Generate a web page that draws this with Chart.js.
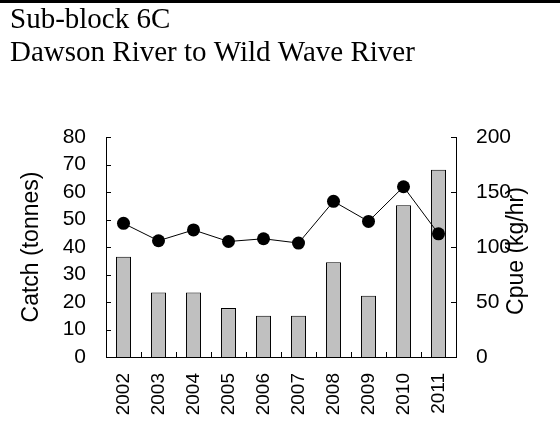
<!DOCTYPE html>
<html>
<head>
<meta charset="utf-8">
<script src="https://cdn.jsdelivr.net/npm/chart.js@4.4.1/dist/chart.umd.min.js"></script>
<style>
  html, body { margin: 0; padding: 0; background: #fff; }
  canvas { display: block; }
</style>
</head>
<body>
<canvas id="catchChart" width="560" height="432"></canvas>
<script>
// catch and cpue by year, sub-block 6C
const years = ['2002', '2003', '2004', '2005', '2006', '2007', '2008', '2009', '2010', '2011'];
const catchTonnes = [36.5, 23.5, 23.5, 17.8, 15.0, 15.0, 34.5, 22.3, 55.2, 68.1];
const cpueKgHr = [121.5, 105.7, 115.5, 105.0, 107.5, 103.6, 141.5, 123.3, 154.8, 112.0];

const titleLines = ['Sub-block 6C', 'Dawson River to Wild Wave River'];
const catchTitle = 'Catch (tonnes)';
const cpueTitle = 'Cpue (kg/hr)';

const sans = '"Liberation Sans", Arial, sans-serif';
const serif = '"Liberation Serif", "Times New Roman", serif';

// short inward tick marks, rule at the top, right-hand axis title
const frameExtras = {
  id: 'frameExtras',
  beforeDraw(chart) {
    const ctx = chart.ctx;
    ctx.save();
    ctx.fillStyle = '#000';
    ctx.fillRect(0, 0, chart.width, 3);
    ctx.restore();
  },
  afterDraw(chart) {
    const { ctx, chartArea: a, scales } = chart;
    const len = 5;
    ctx.save();
    ctx.strokeStyle = '#000';
    ctx.lineWidth = 1;
    ctx.beginPath();
    scales.y.ticks.forEach(t => {
      const py = Math.round(scales.y.getPixelForValue(t.value)) + 0.5;
      ctx.moveTo(a.left, py);
      ctx.lineTo(a.left + len, py);
    });
    scales.y1.ticks.forEach(t => {
      const py = Math.round(scales.y1.getPixelForValue(t.value)) + 0.5;
      ctx.moveTo(a.right - len, py);
      ctx.lineTo(a.right, py);
    });
    for (let i = 0; i < years.length - 1; i++) {
      const px = Math.round((scales.x.getPixelForValue(i) + scales.x.getPixelForValue(i + 1)) / 2) + 0.5;
      ctx.moveTo(px, a.bottom);
      ctx.lineTo(px, a.bottom - len);
    }
    ctx.stroke();

    // right title reads bottom to top like the left one
    ctx.translate(scales.y1.right - 43, (a.top + a.bottom) / 2 + 4);
    ctx.rotate(-Math.PI / 2);
    ctx.fillStyle = '#000';
    ctx.font = '23px ' + sans;
    ctx.textAlign = 'center';
    ctx.textBaseline = 'middle';
    ctx.fillText(cpueTitle, 0, 0);
    ctx.restore();
  }
};

new Chart(document.getElementById('catchChart').getContext('2d'), {
  type: 'bar',
  data: {
    labels: years,
    datasets: [
      {
        type: 'line',
        label: 'Cpue',
        data: cpueKgHr,
        yAxisID: 'y1',
        borderColor: '#000',
        borderWidth: 1,
        pointRadius: 6.5,
        pointBackgroundColor: '#000',
        pointBorderWidth: 0,
        tension: 0,
        order: 0
      },
      {
        label: 'Catch',
        data: catchTonnes,
        yAxisID: 'y',
        backgroundColor: '#c0c0c0',
        borderColor: '#000',
        borderWidth: 1,
        categoryPercentage: 1,
        barPercentage: 0.43,
        order: 1
      }
    ]
  },
  options: {
    responsive: false,
    animation: false,
    devicePixelRatio: 1,
    layout: { padding: { left: 10, right: 0, top: 0, bottom: 0 } },
    plugins: {
      legend: { display: false },
      tooltip: { enabled: false },
      title: {
        display: true,
        text: titleLines,
        align: 'start',
        color: '#000',
        font: { family: serif, size: 29, weight: 'normal', lineHeight: 1.14 },
        padding: { top: 4, bottom: 66.9 }
      }
    },
    scales: {
      x: {
        grid: { display: false, drawTicks: false },
        border: { display: true, color: '#000', width: 1 },
        ticks: {
          color: '#000',
          font: { family: sans, size: 19 },
          minRotation: 90,
          maxRotation: 90,
          autoSkip: false,
          padding: 16
        },
        afterFit(scale) { scale.height = 75; }
      },
      y: {
        position: 'left',
        min: 0,
        max: 80,
        grid: { display: false, drawTicks: false },
        border: { display: true, color: '#000', width: 1 },
        ticks: { stepSize: 10, autoSkip: false, color: '#000', font: { family: sans, size: 21 }, padding: 20 },
        title: {
          display: true,
          text: catchTitle,
          color: '#000',
          font: { family: sans, size: 23 },
          padding: { top: 8, bottom: 0 }
        },
        afterFit(scale) { scale.width = 96; }
      },
      y1: {
        position: 'right',
        min: 0,
        max: 200,
        grid: { display: false, drawTicks: false },
        border: { display: true, color: '#000', width: 1 },
        ticks: { stepSize: 50, autoSkip: false, color: '#000', font: { family: sans, size: 21 }, padding: 20 },
        afterFit(scale) { scale.width = 104; }
      }
    }
  },
  plugins: [frameExtras]
});
</script>
</body>
</html>
